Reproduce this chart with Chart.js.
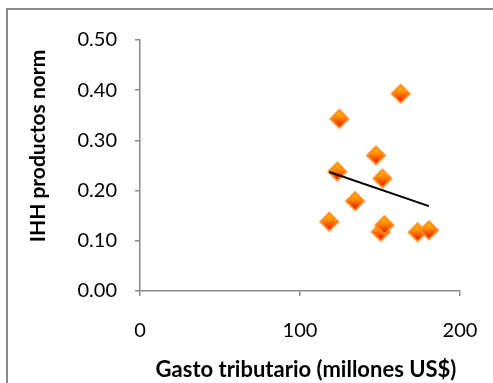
<!DOCTYPE html>
<html>
<head>
<meta charset="utf-8">
<script src="https://cdn.jsdelivr.net/npm/chart.js@4.4.1/dist/chart.umd.min.js"></script>
<style>
  html, body { margin: 0; padding: 0; background: #fff; overflow: hidden; }
  #wrap { position: relative; width: 493px; height: 383px; }
  #frame { position: absolute; left: 6px; top: 8px; width: 600px; height: 500px;
           border-left: 2px solid #8c8c8c; border-top: 2px solid #8c8c8c; }
  #c { position: absolute; left: 0; top: 0; }
</style>
</head>
<body>
<div id="wrap">
  <div id="frame"></div>
  <canvas id="c" width="493" height="383"></canvas>
</div>
<script>
// Tax expenditure (millions US$) vs normalised product HHI
const gastoTributario = [118.3, 124.6, 123.3, 134.4, 147.5, 151.5, 162.9, 150.4, 152.7, 173.5, 180.6];
const ihhProductos    = [0.138, 0.343, 0.238, 0.179, 0.270, 0.224, 0.393, 0.118, 0.131, 0.117, 0.121];

// Linear trend line end points
const tendenciaX = [118.3, 180.6];
const tendenciaY = [0.237, 0.169];

const yTicks = [0, 0.1, 0.2, 0.3, 0.4, 0.5];
const xTicks = [0, 100, 200];

const xTitle = 'Gasto tributario (millones US$)';
const yTitle = 'IHH productos norm';

const FONT = 'Lato, "Open Sans", sans-serif';

// Diamond marker with an orange-to-red gradient fill
function makeDiamond() {
  const s = 22, h = s / 2, r = 9;
  const cv = document.createElement('canvas');
  cv.width = s; cv.height = s;
  const g = cv.getContext('2d');
  const grad = g.createLinearGradient(0, h - r, 0, h + r);
  grad.addColorStop(0, '#ffc000');
  grad.addColorStop(0.4, '#ff9000');
  grad.addColorStop(1, '#e80000');
  g.beginPath();
  g.moveTo(h, h - r); g.lineTo(h + r, h); g.lineTo(h, h + r); g.lineTo(h - r, h);
  g.closePath();
  g.fillStyle = grad;
  g.fill();
  g.lineWidth = 1.8;
  g.strokeStyle = '#ff8a22';
  g.stroke();
  return cv;
}

const toPoints = (xs, ys) => xs.map((x, i) => ({ x: x, y: ys[i] }));

// Axis titles, placed relative to the plot area
const axisTitles = {
  id: 'axisTitles',
  afterDraw(chart) {
    const ctx = chart.ctx, a = chart.chartArea;
    ctx.save();
    ctx.fillStyle = '#000';
    ctx.textAlign = 'center';
    ctx.textBaseline = 'alphabetic';
    ctx.font = 'bold 22px ' + FONT;
    ctx.fillText(xTitle, (a.left + a.right) / 2 + 6, a.bottom + 86);
    ctx.font = 'bold 21px ' + FONT;
    ctx.translate(45, a.top + 106);
    ctx.rotate(-Math.PI / 2);
    ctx.fillText(yTitle, 0, 0);
    ctx.restore();
  }
};

const axisGrey = '#8a8a8a';

// Keep the plot area edges fixed regardless of tick label widths
const noEdgePadding = s => { s.paddingLeft = 0; s.paddingRight = 0; };

new Chart(document.getElementById('c'), {
  type: 'scatter',
  data: {
    datasets: [
      {
        type: 'line',
        data: toPoints(tendenciaX, tendenciaY),
        borderColor: '#000',
        borderWidth: 2,
        pointRadius: 0,
        fill: false,
        order: 0
      },
      {
        data: toPoints(gastoTributario, ihhProductos),
        pointStyle: makeDiamond(),
        pointRadius: 10,
        order: 1
      }
    ]
  },
  plugins: [axisTitles],
  options: {
    responsive: false,
    animation: false,
    events: [],
    layout: { padding: { top: 40, right: 33, left: 0, bottom: 0 } },
    plugins: { legend: { display: false }, tooltip: { enabled: false } },
    scales: {
      x: {
        type: 'linear',
        min: xTicks[0], max: xTicks[xTicks.length - 1],
        afterBuildTicks: s => { s.ticks = xTicks.map(v => ({ value: v })); },
        afterFit: s => { s.height = 92; noEdgePadding(s); },
        grid: { drawOnChartArea: false, color: axisGrey, tickLength: 5, lineWidth: 1.5 },
        border: { color: axisGrey, width: 1.5 },
        ticks: { color: '#000', font: { family: FONT, size: 20 }, padding: 23, maxRotation: 0 }
      },
      y: {
        type: 'linear',
        min: yTicks[0], max: yTicks[yTicks.length - 1],
        afterBuildTicks: s => { s.ticks = yTicks.map(v => ({ value: v })); },
        afterFit: s => { s.width = 140; },
        grid: { drawOnChartArea: false, color: axisGrey, tickLength: 5, lineWidth: 1.5 },
        border: { color: axisGrey, width: 1.5 },
        ticks: { color: '#000', font: { family: FONT, size: 20 }, padding: 18,
                 callback: v => Number(v).toFixed(2) }
      }
    }
  }
});
</script>
</body>
</html>
